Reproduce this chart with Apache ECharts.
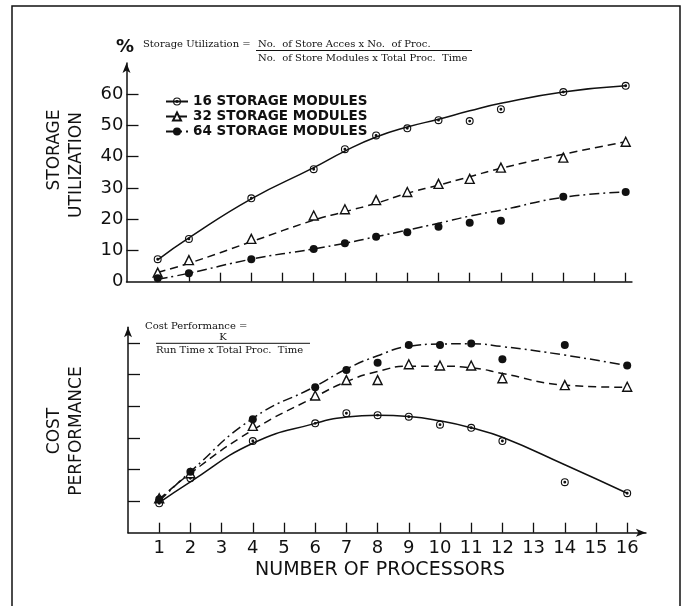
<!DOCTYPE html>
<html>
<head>
<meta charset="utf-8">
<script src="https://cdn.jsdelivr.net/npm/echarts@6/dist/echarts.min.js"></script>
<style>
  html, body { margin: 0; padding: 0; background: #fff; }
  #chart { width: 682px; height: 606px; }
</style>
</head>
<body>
<div id="chart"></div>
<script>
// Number of processors at which each configuration was measured
const processors = [1, 2, 4, 6, 7, 8, 9, 10, 11, 12, 14, 16];

// Storage utilization (%), measured points
const util16 = [7.2, 13.7, 26.7, 36.0, 42.4, 46.8, 49.1, 51.7, 51.4, 55.2, 60.7, 62.7];
const util32 = [2.9, 6.9, 13.7, 21.2, 23.2, 26.1, 28.7, 31.3, 32.9, 36.5, 39.7, 44.8];
const util64 = [1.1, 2.7, 7.2, 10.5, 12.3, 14.4, 15.8, 17.6, 18.9, 19.5, 27.2, 28.7];

// Storage utilization, fitted trend curves
const util16Fit = [7.0, 14.0, 26.5, 36.5, 41.8, 46.3, 49.5, 52.0, 54.7, 57.1, 60.7, 62.7];
const util32Fit = [3.0, 5.9, 12.8, 19.7, 22.4, 25.1, 28.3, 30.9, 33.6, 36.3, 40.8, 44.8];
const util64Fit = [0.8, 2.7, 7.2, 10.5, 12.3, 14.4, 16.5, 18.7, 21.0, 22.9, 27.0, 28.7];

// Cost performance (relative units), measured points
const cost16 = [0.93, 1.72, 2.90, 3.46, 3.78, 3.72, 3.67, 3.42, 3.32, 2.90, 1.60, 1.25];
const cost32 = [1.09, 1.88, 3.38, 4.34, 4.83, 4.83, 5.33, 5.29, 5.29, 4.89, 4.67, 4.62];
const cost64 = [1.06, 1.93, 3.59, 4.60, 5.15, 5.38, 5.94, 5.94, 5.99, 5.49, 5.94, 5.29];

// Cost performance, fitted trend curves
const cost16Fit = [0.95, 1.61, 2.83, 3.46, 3.66, 3.72, 3.68, 3.54, 3.32, 3.02, 2.15, 1.25];
const cost32Fit = [1.05, 1.88, 3.25, 4.30, 4.78, 5.10, 5.27, 5.27, 5.22, 5.04, 4.67, 4.60];
const cost64Fit = [1.00, 1.93, 3.62, 4.63, 5.18, 5.60, 5.90, 5.97, 5.98, 5.89, 5.62, 5.29];

// Axis tick values
const xTicks = [1, 2, 3, 4, 5, 6, 7, 8, 9, 10, 11, 12, 13, 14, 15, 16];
const utilLabels = [0, 10, 20, 30, 40, 50, 60];
const utilTicks = [10, 20, 30, 40, 50, 60];
const costTicks = [1, 2, 3, 4, 5, 6];

const seriesNames = ['16 STORAGE MODULES', '32 STORAGE MODULES', '64 STORAGE MODULES'];

const INK = '#111';
const SANS = 'DejaVu Sans';
const SERIF = 'DejaVu Serif';

// Ring with a centre dot (filled with nonzero rule)
const dotRing = 'path://M10,0 A10,10 0 1,1 -10,0 A10,10 0 1,1 10,0 Z ' +
  'M7.2,0 A7.2,7.2 0 1,0 -7.2,0 A7.2,7.2 0 1,0 7.2,0 Z ' +
  'M3.6,0 A3.6,3.6 0 1,1 -3.6,0 A3.6,3.6 0 1,1 3.6,0 Z';

const markers = [
  { symbol: dotRing, size: 8, fill: INK, border: 0 },
  { symbol: 'triangle', size: 9, fill: '#fff', border: 1.4 },
  { symbol: 'circle', size: 8, fill: INK, border: 0 }
];
const dashes = ['solid', [8, 5], [10, 4, 2, 4]];

function pairs(xs, ys) { return xs.map((x, i) => [x, ys[i]]); }

function curveSeries(idx, gridIdx, ys) {
  const m = markers[idx];
  return {
    name: seriesNames[idx],
    type: 'line',
    xAxisIndex: gridIdx,
    yAxisIndex: gridIdx,
    data: pairs(processors, ys),
    smooth: 0.5,
    showSymbol: false,
    symbol: m.symbol,
    symbolSize: m.size,
    itemStyle: { color: m.border ? '#fff' : INK, borderColor: INK, borderWidth: m.border },
    lineStyle: { color: INK, width: 1.5, type: dashes[idx] },
    silent: true,
    animation: false,
    z: 2
  };
}

function pointSeries(idx, gridIdx, ys) {
  const m = markers[idx];
  return {
    name: seriesNames[idx],
    type: 'scatter',
    xAxisIndex: gridIdx,
    yAxisIndex: gridIdx,
    data: pairs(processors, ys),
    symbol: m.symbol,
    symbolSize: m.size,
    itemStyle: { color: m.fill, borderColor: INK, borderWidth: m.border, opacity: 1 },
    silent: true,
    animation: false,
    z: 3
  };
}

const axisLineStyle = { color: INK, width: 1.5 };

const chart = echarts.init(document.getElementById('chart'), null, { renderer: 'canvas' });

chart.setOption({
  backgroundColor: '#fff',
  animation: false,
  grid: [
    { left: 126.5, top: 63, width: 16.2 * 31.2, height: 218.7 },
    { left: 128, top: 327.3, width: 16.6 * 31.2, height: 205.4 }
  ],
  xAxis: [
    {
      type: 'value', gridIndex: 0, min: 0, max: 16.2,
      axisLine: { lineStyle: axisLineStyle },
      axisTick: { show: true, inside: true, length: 9, customValues: xTicks, lineStyle: { color: INK, width: 1.3 } },
      axisLabel: { show: false },
      splitLine: { show: false }
    },
    {
      type: 'value', gridIndex: 1, min: 0, max: 16.6,
      axisLine: { lineStyle: axisLineStyle, symbol: ['none', 'arrow'], symbolSize: [6, 10] },
      axisTick: { show: true, inside: true, length: 10, customValues: xTicks, lineStyle: { color: INK, width: 1.3 } },
      axisLabel: { customValues: xTicks, margin: 7, color: INK, fontFamily: SANS, fontSize: 18 },
      splitLine: { show: false }
    }
  ],
  yAxis: [
    {
      type: 'value', gridIndex: 0, min: 0, max: 70,
      axisLine: { show: true, lineStyle: axisLineStyle, symbol: ['none', 'arrow'], symbolSize: [6, 10] },
      axisTick: { show: true, inside: true, length: 12, customValues: utilTicks, lineStyle: { color: INK, width: 1.3 } },
      axisLabel: { customValues: utilLabels, margin: 3, color: INK, fontFamily: SANS, fontSize: 18 },
      splitLine: { show: false }
    },
    {
      type: 'value', gridIndex: 1, min: 0, max: 6.5,
      axisLine: { show: true, lineStyle: axisLineStyle, symbol: ['none', 'arrow'], symbolSize: [6, 10] },
      axisTick: { show: true, inside: true, length: 12, customValues: costTicks, lineStyle: { color: INK, width: 1.3 } },
      axisLabel: { show: false },
      splitLine: { show: false }
    }
  ],
  legend: {
    data: seriesNames,
    orient: 'vertical',
    left: 165,
    top: 94,
    padding: 0,
    itemWidth: 22,
    itemHeight: 10,
    itemGap: 0,
    textStyle: { color: INK, fontFamily: SANS, fontWeight: 'bold', fontSize: 13.5, lineHeight: 15 },
    selectedMode: false
  },
  series: [
    curveSeries(0, 0, util16Fit), curveSeries(1, 0, util32Fit), curveSeries(2, 0, util64Fit),
    curveSeries(0, 1, cost16Fit), curveSeries(1, 1, cost32Fit), curveSeries(2, 1, cost64Fit),
    pointSeries(0, 0, util16), pointSeries(1, 0, util32), pointSeries(2, 0, util64),
    pointSeries(0, 1, cost16), pointSeries(1, 1, cost32), pointSeries(2, 1, cost64)
  ],
  graphic: [
    // page frame
    { type: 'rect', shape: { x: 12, y: 6, width: 668, height: 640 }, style: { fill: 'none', stroke: INK, lineWidth: 1.5 }, silent: true },

    // upper panel: unit mark and defining formula
    { type: 'text', left: 116, top: 38, style: { text: '%', fill: INK, font: 'bold 18px ' + SANS } },
    { type: 'text', x: 143, y: 44, style: { text: 'Storage Utilization =', fill: INK, font: '10px ' + SERIF, verticalAlign: 'middle' } },
    { type: 'text', x: 258, y: 44, style: { text: 'No.  of Store Acces x No.  of Proc.', fill: INK, font: '10px ' + SERIF, verticalAlign: 'middle' } },
    { type: 'line', shape: { x1: 256, y1: 50.5, x2: 472, y2: 50.5 }, style: { stroke: INK, lineWidth: 1 } },
    { type: 'text', x: 258, y: 58.5, style: { text: 'No.  of Store Modules x Total Proc.  Time', fill: INK, font: '10px ' + SERIF, verticalAlign: 'middle' } },

    // lower panel formula
    { type: 'text', x: 145, y: 326, style: { text: 'Cost Performance =', fill: INK, font: '10px ' + SERIF, verticalAlign: 'middle' } },
    { type: 'text', x: 223, y: 337.5, style: { text: 'K', fill: INK, font: '10px ' + SERIF, align: 'center', verticalAlign: 'middle' } },
    { type: 'line', shape: { x1: 156, y1: 343.3, x2: 310, y2: 343.3 }, style: { stroke: INK, lineWidth: 1 } },
    { type: 'text', x: 156, y: 350.5, style: { text: 'Run Time x Total Proc.  Time', fill: INK, font: '10px ' + SERIF, verticalAlign: 'middle' } },

    // axis titles
    { type: 'text', x: 55, y: 150, rotation: Math.PI / 2, style: { text: 'STORAGE', fill: INK, font: '17px ' + SANS, align: 'center', verticalAlign: 'middle' } },
    { type: 'text', x: 77, y: 165, rotation: Math.PI / 2, style: { text: 'UTILIZATION', fill: INK, font: '17px ' + SANS, align: 'center', verticalAlign: 'middle' } },
    { type: 'text', x: 55, y: 431, rotation: Math.PI / 2, style: { text: 'COST', fill: INK, font: '17px ' + SANS, align: 'center', verticalAlign: 'middle' } },
    { type: 'text', x: 77, y: 431, rotation: Math.PI / 2, style: { text: 'PERFORMANCE', fill: INK, font: '17px ' + SANS, align: 'center', verticalAlign: 'middle' } },
    { type: 'text', x: 380, y: 570, style: { text: 'NUMBER OF PROCESSORS', fill: INK, font: '19px ' + SANS, align: 'center', verticalAlign: 'middle' } }
  ]
});
</script>
</body>
</html>
